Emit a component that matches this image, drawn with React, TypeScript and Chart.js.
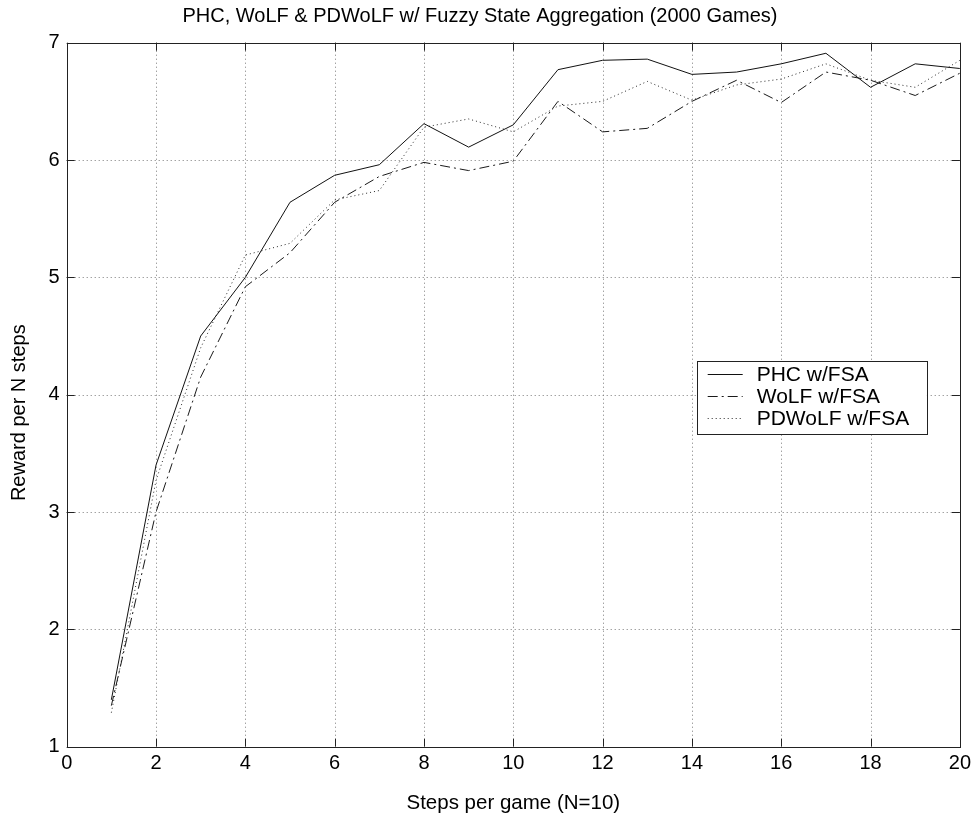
import React, { useEffect, useRef } from "react";
import { Chart, registerables } from "chart.js";

Chart.register(...registerables);

const steps = [1, 2, 3, 4, 5, 6, 7, 8, 9, 10, 11, 12, 13, 14, 15, 16, 17, 18, 19, 20];
const phc = [1.40, 3.40, 4.50, 5.00, 5.64, 5.87, 5.96, 6.31, 6.11, 6.30, 6.77, 6.85, 6.86, 6.73, 6.75, 6.82, 6.91, 6.62, 6.82, 6.78];
const wolf = [1.35, 3.00, 4.15, 4.92, 5.21, 5.64, 5.86, 5.98, 5.91, 5.99, 6.50, 6.24, 6.27, 6.50, 6.68, 6.49, 6.75, 6.68, 6.55, 6.74];
const pdwolf = [1.29, 3.27, 4.40, 5.19, 5.29, 5.66, 5.74, 6.28, 6.35, 6.24, 6.46, 6.50, 6.67, 6.51, 6.64, 6.69, 6.82, 6.68, 6.62, 6.85];
const seriesLabels = ["PHC w/FSA", "WoLF w/FSA", "PDWoLF w/FSA"];
const xTicks = [0, 2, 4, 6, 8, 10, 12, 14, 16, 18, 20];
const yTicks = [1, 2, 3, 4, 5, 6, 7];
const yAxisLabel = "Reward per N steps";

const FONT = "'Liberation Sans', Arial, Helvetica, sans-serif";

const matlabAxes = {
  id: "matlabAxes",
  beforeDatasetsDraw(chart: any) {
    const { ctx, chartArea: a, scales } = chart;
    const xs = scales.x;
    const ys = scales.y;
    ctx.save();
    ctx.strokeStyle = "#7a7a7a";
    ctx.lineWidth = 1;
    ctx.setLineDash([1, 3]);
    for (const v of xTicks) {
      if (v === xTicks[0] || v === xTicks[xTicks.length - 1]) continue;
      const px = Math.round(xs.getPixelForValue(v)) + 0.5;
      ctx.beginPath();
      ctx.moveTo(px, a.top);
      ctx.lineTo(px, a.bottom);
      ctx.stroke();
    }
    for (const v of yTicks) {
      if (v === yTicks[0] || v === yTicks[yTicks.length - 1]) continue;
      const py = Math.round(ys.getPixelForValue(v)) + 0.5;
      ctx.beginPath();
      ctx.moveTo(a.left, py);
      ctx.lineTo(a.right, py);
      ctx.stroke();
    }
    ctx.restore();
  },
  afterDatasetsDraw(chart: any) {
    const { ctx, chartArea: a, scales } = chart;
    const xs = scales.x;
    const ys = scales.y;
    ctx.save();
    ctx.setLineDash([]);
    ctx.strokeStyle = "#222";
    ctx.lineWidth = 1;
    const tl = 8;
    for (const v of xTicks) {
      const px = Math.round(xs.getPixelForValue(v)) + 0.5;
      ctx.beginPath();
      ctx.moveTo(px, a.bottom);
      ctx.lineTo(px, a.bottom - tl);
      ctx.moveTo(px, a.top);
      ctx.lineTo(px, a.top + tl);
      ctx.stroke();
    }
    for (const v of yTicks) {
      const py = Math.round(ys.getPixelForValue(v)) + 0.5;
      ctx.beginPath();
      ctx.moveTo(a.left, py);
      ctx.lineTo(a.left + tl, py);
      ctx.moveTo(a.right, py);
      ctx.lineTo(a.right - tl, py);
      ctx.stroke();
    }
    ctx.strokeRect(Math.round(a.left) + 0.5, Math.round(a.top) + 0.5, Math.round(a.right - a.left), Math.round(a.bottom - a.top));

    // y axis label
    ctx.save();
    ctx.translate(19.5, (a.top + a.bottom) / 2 + 18);
    ctx.rotate(-Math.PI / 2);
    ctx.font = `20px ${FONT}`;
    ctx.fillStyle = "#000";
    ctx.textAlign = "center";
    ctx.textBaseline = "middle";
    ctx.fillText(yAxisLabel, 0, 0);
    ctx.restore();

    // legend box
    const lx = a.left + 630;
    const ly = a.top + 318;
    const lw = 230;
    const lh = 73;
    ctx.fillStyle = "#fff";
    ctx.fillRect(lx, ly, lw, lh);
    ctx.strokeStyle = "#222";
    ctx.strokeRect(Math.round(lx) + 0.5, Math.round(ly) + 0.5, lw, lh);
    ctx.font = `21px ${FONT}`;
    ctx.textBaseline = "middle";
    ctx.textAlign = "left";
    chart.data.datasets.forEach((ds: any, i: number) => {
      const cy = Math.round(ly + 13 + i * 22) + 0.5;
      ctx.strokeStyle = ds.borderColor;
      ctx.setLineDash(ds.borderDash || []);
      ctx.beginPath();
      ctx.moveTo(lx + 11, cy);
      ctx.lineTo(lx + 46, cy);
      ctx.stroke();
      ctx.setLineDash([]);
      ctx.fillStyle = "#000";
      ctx.fillText(ds.label, lx + 60, cy + 1);
    });
    ctx.restore();
  },
};

export default function App() {
  const ref = useRef<HTMLCanvasElement | null>(null);
  useEffect(() => {
    if (!ref.current) return;
    const mk = (arr: number[]) => steps.map((s, i) => ({ x: s, y: arr[i] }));
    const chart = new Chart(ref.current, {
      type: "line",
      data: {
        datasets: [
          { label: seriesLabels[0], data: mk(phc), borderColor: "#111", borderWidth: 1, borderDash: [], pointRadius: 0, tension: 0, fill: false },
          { label: seriesLabels[1], data: mk(wolf), borderColor: "#1a1a1a", borderWidth: 1, borderDash: [10, 4, 2, 4], pointRadius: 0, tension: 0, fill: false },
          { label: seriesLabels[2], data: mk(pdwolf), borderColor: "#2a2a2a", borderWidth: 1, borderDash: [1, 3], pointRadius: 0, tension: 0, fill: false },
        ],
      },
      options: {
        responsive: false,
        maintainAspectRatio: false,
        animation: false,
        layout: { padding: { left: 0, right: 16, top: 0, bottom: 0 } },
        plugins: {
          legend: { display: false },
          tooltip: { enabled: false },
          title: {
            display: true,
            text: "PHC, WoLF & PDWoLF w/ Fuzzy State Aggregation (2000 Games)",
            color: "#000",
            font: { family: FONT, size: 20, weight: "normal" },
            padding: { top: 4, bottom: 14.7 },
          },
        },
        scales: {
          x: {
            type: "linear",
            min: 0,
            max: 20,
            grid: { display: false, drawTicks: false },
            border: { display: false },
            afterBuildTicks: (s: any) => { s.ticks = xTicks.map((v) => ({ value: v })); },
            afterFit: (s: any) => { s.height = 71.3; },
            ticks: { color: "#000", font: { family: FONT, size: 20 }, padding: 5, maxRotation: 0, autoSkip: false },
            title: {
              display: true,
              text: "Steps per game (N=10)",
              color: "#000",
              font: { family: FONT, size: 20.5 },
              padding: { top: 0, bottom: 2.5 },
            },
          },
          y: {
            type: "linear",
            min: 1,
            max: 7,
            grid: { display: false, drawTicks: false },
            border: { display: false },
            afterBuildTicks: (s: any) => { s.ticks = yTicks.map((v) => ({ value: v })); },
            afterFit: (s: any) => { s.width = 66.7; },
            ticks: { color: "#000", font: { family: FONT, size: 20 }, padding: 7, autoSkip: false },
            title: { display: false },
          },
        },
      } as any,
      plugins: [matlabAxes],
    });
    return () => chart.destroy();
  }, []);
  return (
    <div style={{ position: "absolute", left: 0, top: 0, width: 976, height: 818, background: "#fff" }}>
      <canvas ref={ref} width={976} height={818} style={{ display: "block" }} />
    </div>
  );
}
